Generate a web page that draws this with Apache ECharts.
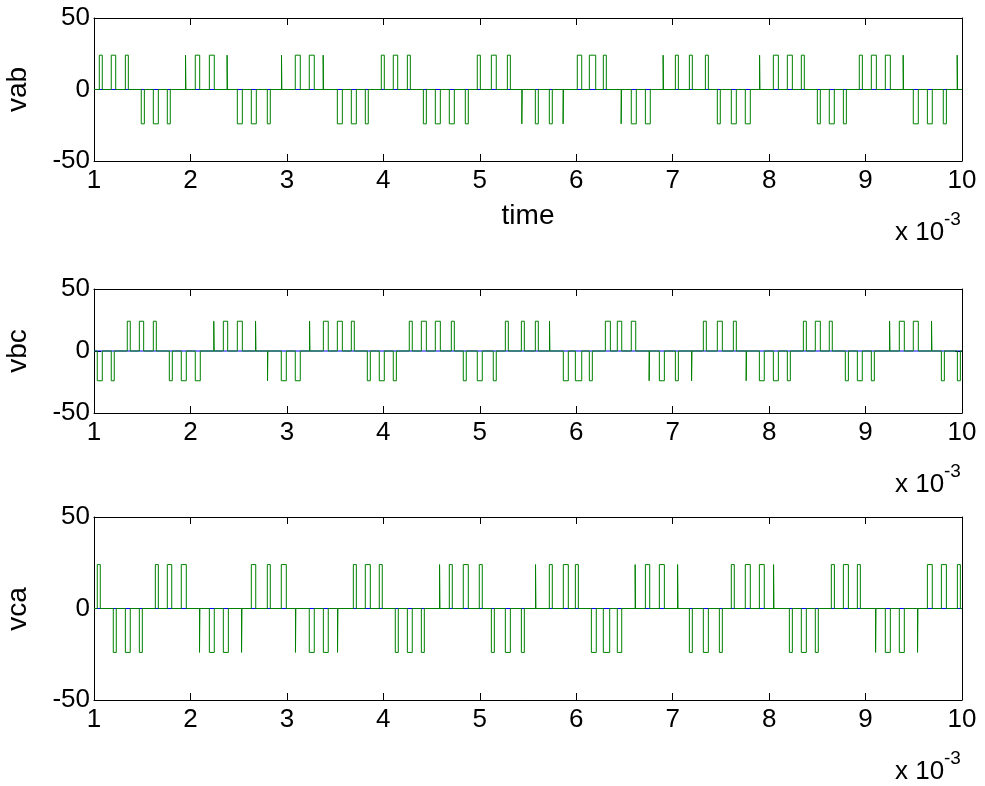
<!DOCTYPE html>
<html><head><meta charset="utf-8">
<script src="https://cdn.jsdelivr.net/npm/echarts@6/dist/echarts.min.js"></script>
<style>html,body{margin:0;padding:0;background:#fff}#c{width:985px;height:786px}</style>
</head><body><div id="c"></div>
<script>
// ---- data (time axis in units of 1e-3 s) ----
const xTicks = [1, 2, 3, 4, 5, 6, 7, 8, 9, 10];
const yTicks = [-50, 0, 50];
const panelNames = ['vab', 'vbc', 'vca'];
const xLabel = 'time';
const P = 24, N = -24;

const vabStart = [1.055,1.179,1.325,1.490,1.615,1.760,1.949,2.050,2.196,2.380,2.486,2.631,2.797,2.944,3.087,3.232,3.376,3.523,3.668,3.813,3.979,4.103,4.249,4.415,4.539,4.684,4.850,4.974,5.120,5.286,5.436,5.576,5.721,5.864,6.011,6.136,6.281,6.466,6.571,6.717,6.901,7.028,7.173,7.339,7.463,7.608,7.753,7.901,8.044,8.189,8.334,8.500,8.624,8.770,8.935,9.060,9.205,9.390,9.495,9.641,9.806,9.950];
const vabEnd   = [1.086,1.225,1.356,1.522,1.667,1.791,1.953,2.096,2.247,2.384,2.538,2.683,2.828,2.948,3.139,3.284,3.380,3.575,3.720,3.844,4.010,4.149,4.280,4.446,4.591,4.736,4.881,5.006,5.171,5.317,5.440,5.607,5.752,5.868,6.057,6.202,6.312,6.470,6.623,6.768,6.905,7.059,7.204,7.370,7.494,7.660,7.805,7.905,8.096,8.241,8.365,8.531,8.676,8.801,8.967,9.112,9.257,9.394,9.547,9.692,9.838,9.954];
const vabLevel = [P,P,P,N,N,N,P,P,P,P,N,N,N,P,P,P,P,N,N,N,P,P,P,N,N,N,N,P,P,P,N,N,N,N,P,P,P,N,N,N,P,P,P,P,N,N,N,P,P,P,P,N,N,N,P,P,P,P,N,N,N,P];

const vbcStart = [1.034,1.179,1.345,1.470,1.615,1.781,1.905,2.050,2.242,2.341,2.486,2.675,2.799,2.942,3.087,3.235,3.378,3.523,3.668,3.834,3.958,4.103,4.269,4.394,4.539,4.705,4.829,4.974,5.140,5.265,5.431,5.576,5.723,5.866,5.991,6.136,6.302,6.426,6.571,6.756,6.862,7.028,7.196,7.318,7.463,7.629,7.762,7.899,8.044,8.189,8.355,8.479,8.624,8.790,8.915,9.060,9.249,9.350,9.495,9.684,9.786,9.952];
const vbcEnd   = [1.086,1.210,1.376,1.515,1.646,1.812,1.957,2.102,2.246,2.386,2.538,2.679,2.803,2.994,3.139,3.239,3.429,3.575,3.699,3.865,4.010,4.135,4.300,4.446,4.591,4.736,4.860,5.026,5.171,5.296,5.462,5.607,5.727,5.918,6.057,6.167,6.354,6.472,6.617,6.760,6.914,7.059,7.200,7.349,7.515,7.660,7.766,7.950,8.096,8.220,8.386,8.531,8.655,8.822,8.966,9.091,9.253,9.402,9.547,9.688,9.817,9.983];
const vbcLevel = [N,N,P,P,P,N,N,N,P,P,P,P,N,N,N,P,P,P,P,N,N,N,P,P,P,P,N,N,N,P,P,P,P,N,N,N,P,P,P,N,N,N,N,P,P,P,N,N,N,N,P,P,P,N,N,N,P,P,P,P,N,N];

const vcaStart = [1.034,1.200,1.325,1.470,1.636,1.760,1.905,2.094,2.196,2.341,2.530,2.631,2.797,2.942,3.089,3.232,3.378,3.525,3.689,3.813,3.958,4.124,4.249,4.394,4.583,4.684,4.829,4.995,5.120,5.265,5.431,5.578,5.721,5.866,5.991,6.157,6.281,6.426,6.611,6.717,6.862,7.051,7.173,7.318,7.484,7.608,7.753,7.899,8.046,8.210,8.334,8.479,8.645,8.770,8.915,9.104,9.205,9.350,9.539,9.641,9.786,9.952];
const vcaEnd   = [1.065,1.231,1.376,1.501,1.667,1.806,1.957,2.098,2.247,2.393,2.534,2.677,2.828,2.994,3.093,3.284,3.429,3.529,3.720,3.865,3.989,4.155,4.300,4.425,4.587,4.715,4.881,5.026,5.151,5.317,5.462,5.582,5.752,5.918,6.022,6.208,6.347,6.472,6.615,6.762,6.914,7.055,7.204,7.370,7.515,7.639,7.805,7.950,8.050,8.241,8.386,8.510,8.677,8.822,8.946,9.108,9.257,9.402,9.543,9.692,9.838,9.983];
const vcaLevel = [P,N,N,N,P,P,P,N,N,N,N,P,P,P,N,N,N,N,P,P,P,N,N,N,P,P,P,P,N,N,N,P,P,P,P,N,N,N,P,P,P,P,N,N,N,P,P,P,P,N,N,N,P,P,P,N,N,N,N,P,P,P];

// ---- build step traces from the pulse lists ----
function buildTrace(starts, ends, levels) {
  const d = [[xTicks[0], 0]];
  for (let i = 0; i < starts.length; i++) {
    d.push([starts[i], 0], [starts[i], levels[i]], [ends[i], levels[i]], [ends[i], 0]);
  }
  d.push([xTicks[xTicks.length - 1], 0]);
  return d;
}
const traces = [
  buildTrace(vabStart, vabEnd, vabLevel),
  buildTrace(vbcStart, vbcEnd, vbcLevel),
  buildTrace(vcaStart, vcaEnd, vcaLevel)
];

const FONT = 'Liberation Sans';
const grids = [
  {left: 94, top: 18, width: 868, height: 143},
  {left: 94, top: 289, width: 868, height: 124},
  {left: 94, top: 517, width: 868, height: 183}
];
const xAxes = [], yAxes = [], series = [];
grids.forEach((g, i) => {
  const common = {type: 'value', gridIndex: i, splitLine: {show: false},
    axisLine: {show: true, onZero: false, lineStyle: {color: '#000', width: 1}},
    axisTick: {show: true, inside: true, length: 7, lineStyle: {color: '#000'}}};
  xAxes.push(Object.assign({}, common, {position: 'bottom', min: xTicks[0], max: xTicks[xTicks.length-1], interval: 1,
    axisLabel: {show: true, color: '#000', fontFamily: FONT, fontSize: 26, margin: 7}}));
  xAxes.push(Object.assign({}, common, {position: 'top', min: xTicks[0], max: xTicks[xTicks.length-1], interval: 1,
    axisLabel: {show: false}}));
  yAxes.push(Object.assign({}, common, {position: 'left', min: yTicks[0], max: yTicks[2], interval: 50,
    axisLabel: {show: true, color: '#000', fontFamily: FONT, fontSize: 26, margin: 4}}));
  yAxes.push(Object.assign({}, common, {position: 'right', min: yTicks[0], max: yTicks[2], interval: 50,
    axisLabel: {show: false}}));
  series.push({type: 'line', xAxisIndex: 2*i, yAxisIndex: 2*i, data: [[xTicks[0], 0], [xTicks[xTicks.length-1], 0]],
    showSymbol: false, symbol: 'none', lineStyle: {color: '#0000ff', width: 1}, silent: true, z: 2});
  series.push({type: 'line', xAxisIndex: 2*i, yAxisIndex: 2*i, data: traces[i],
    showSymbol: false, symbol: 'none', lineStyle: {color: '#008000', width: 1}, silent: true, z: 3});
});

const graphic = [];
const yCenters = [89.5, 351, 609];
const axisBottoms = [161, 413, 700];
panelNames.forEach((n, i) => {
  graphic.push({type: 'text', x: 18, y: yCenters[i], rotation: Math.PI / 2,
    style: {text: n, fontFamily: FONT, fontSize: 28, fill: '#000', textAlign: 'center', textVerticalAlign: 'middle'}});
  graphic.push({type: 'text', x: 895, y: axisBottoms[i] + 72,
    style: {text: 'x 10', fontFamily: FONT, fontSize: 26, fill: '#000', textAlign: 'left', textVerticalAlign: 'middle'}});
  graphic.push({type: 'text', x: 944, y: axisBottoms[i] + 59,
    style: {text: '-3', fontFamily: FONT, fontSize: 19, fill: '#000', textAlign: 'left', textVerticalAlign: 'middle'}});
});
graphic.push({type: 'text', x: 528, y: 216,
  style: {text: xLabel, fontFamily: FONT, fontSize: 28, fill: '#000', textAlign: 'center', textVerticalAlign: 'middle'}});

const chart = echarts.init(document.getElementById('c'), null, {renderer: 'canvas'});
chart.setOption({
  animation: false,
  backgroundColor: '#fff',
  grid: grids,
  xAxis: xAxes,
  yAxis: yAxes,
  series: series,
  graphic: graphic
});
</script>
</body></html>
